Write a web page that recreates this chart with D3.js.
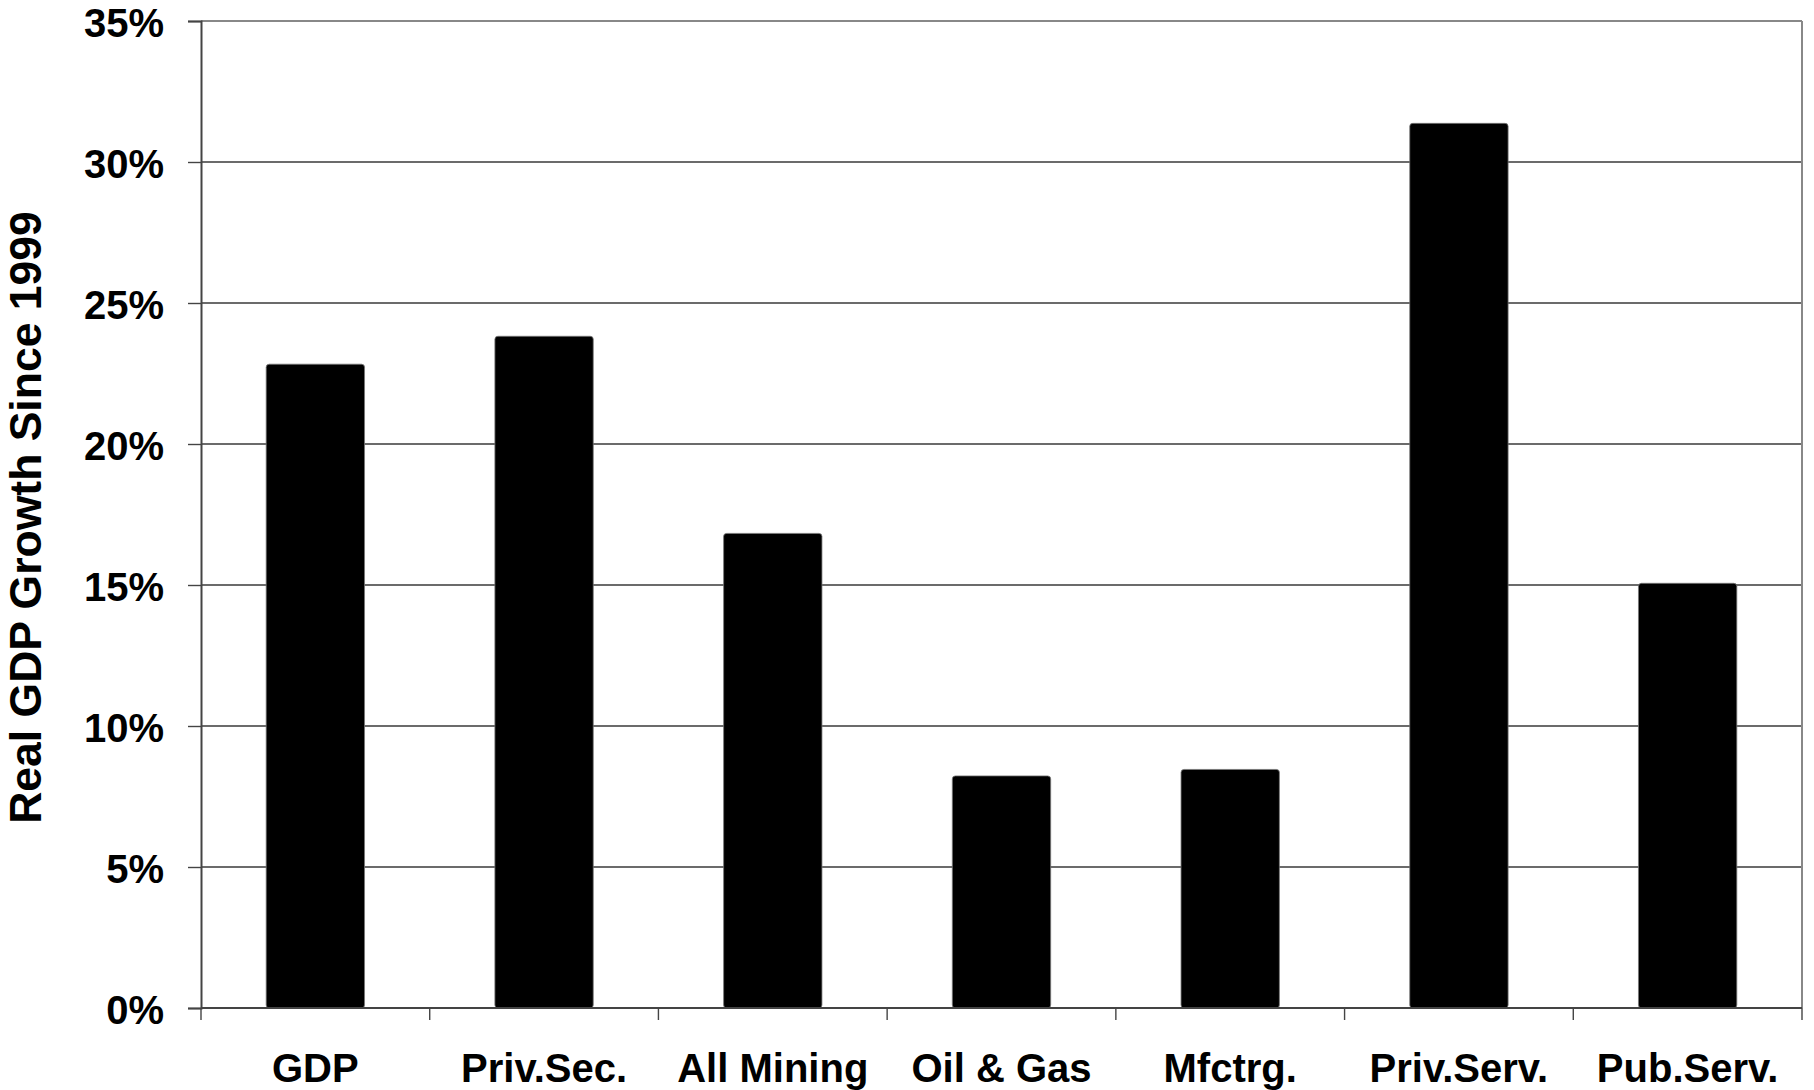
<!DOCTYPE html>
<html>
<head>
<meta charset="utf-8">
<script src="https://cdn.jsdelivr.net/npm/d3@7"></script>
<style>
  html, body { margin: 0; padding: 0; background: #fff; }
  svg { display: block; }
  text { font-family: "Liberation Sans", Arial, Helvetica, sans-serif; font-weight: bold; fill: #000; }
</style>
</head>
<body>
<svg id="chart" width="1814" height="1090"></svg>
<script>
// Sector growth of real GDP since 1999
const categories = ["GDP", "Priv.Sec.", "All Mining", "Oil & Gas", "Mfctrg.", "Priv.Serv.", "Pub.Serv."];
const growth = [0.2283, 0.2382, 0.1683, 0.0823, 0.0846, 0.3137, 0.1506];
const yTicks = [0, 0.05, 0.10, 0.15, 0.20, 0.25, 0.30, 0.35];
const yTitle = "Real GDP Growth Since 1999";

const svg = d3.select("#chart");
const plot = { left: 201, right: 1802, top: 21, bottom: 1008 };

const y = d3.scaleLinear().domain([0, 0.35]).range([plot.bottom, plot.top]);
const x = d3.scaleBand()
  .domain(categories)
  .range([plot.left, plot.right])
  .paddingInner(0.57)
  .paddingOuter(0.285);

// horizontal gridlines
svg.append("g")
  .selectAll("line")
  .data(yTicks.filter(t => t > 0 && t < 0.35))
  .join("line")
  .attr("x1", plot.left).attr("x2", plot.right)
  .attr("y1", d => y(d)).attr("y2", d => y(d))
  .attr("stroke", "#3a3a3a").attr("stroke-width", 1.4);

// top and right frame
svg.append("line")
  .attr("x1", plot.left).attr("x2", plot.right)
  .attr("y1", y(0.35)).attr("y2", y(0.35))
  .attr("stroke", "#888").attr("stroke-width", 2);
svg.append("line")
  .attr("x1", plot.right).attr("x2", plot.right)
  .attr("y1", plot.top).attr("y2", plot.bottom)
  .attr("stroke", "#888").attr("stroke-width", 2);

// bars
svg.append("g")
  .selectAll("rect")
  .data(categories.map((c, i) => ({ c, v: growth[i] })))
  .join("rect")
  .attr("x", d => x(d.c))
  .attr("width", x.bandwidth())
  .attr("y", d => y(d.v))
  .attr("height", d => y(0) - y(d.v))
  .attr("rx", 3)
  .attr("fill", "#000")
  .attr("stroke", "#777")
  .attr("stroke-width", 0.8);

// y axis
const yAxis = d3.axisLeft(y)
  .tickValues(yTicks)
  .tickFormat(d3.format(".0%"))
  .tickSize(13)
  .tickPadding(24);
const gy = svg.append("g")
  .attr("transform", `translate(${plot.left},0)`)
  .call(yAxis);
gy.select(".domain").attr("stroke", "#444").attr("stroke-width", 2);
gy.selectAll(".tick line").attr("stroke", "#444").attr("stroke-width", 1.4);
gy.selectAll(".tick text")
  .attr("font-size", 40)
  .attr("font-family", "Liberation Sans, Arial, sans-serif")
  .attr("font-weight", "bold")
  .attr("fill", "#000")
  .attr("dy", "0.38em");

// x axis: ticks at category boundaries
const step = x.step();
const boundaries = d3.range(categories.length + 1).map(i => plot.left + i * step);
const gx = svg.append("g");
gx.append("line")
  .attr("x1", plot.left).attr("x2", plot.right)
  .attr("y1", plot.bottom).attr("y2", plot.bottom)
  .attr("stroke", "#444").attr("stroke-width", 2);
gx.selectAll("line.tk")
  .data(boundaries)
  .join("line")
  .attr("class", "tk")
  .attr("x1", d => d).attr("x2", d => d)
  .attr("y1", plot.bottom).attr("y2", plot.bottom + 12)
  .attr("stroke", "#444").attr("stroke-width", 1.4);
gx.selectAll("text")
  .data(categories)
  .join("text")
  .attr("x", d => x(d) + x.bandwidth() / 2)
  .attr("y", 1082)
  .attr("text-anchor", "middle")
  .attr("font-size", 40)
  .text(d => d);

// y axis title
svg.append("text")
  .attr("transform", `translate(41,${(plot.top + plot.bottom) / 2 + 3}) rotate(-90)`)
  .attr("text-anchor", "middle")
  .attr("font-size", 44.5)
  .text(yTitle);
</script>
</body>
</html>
